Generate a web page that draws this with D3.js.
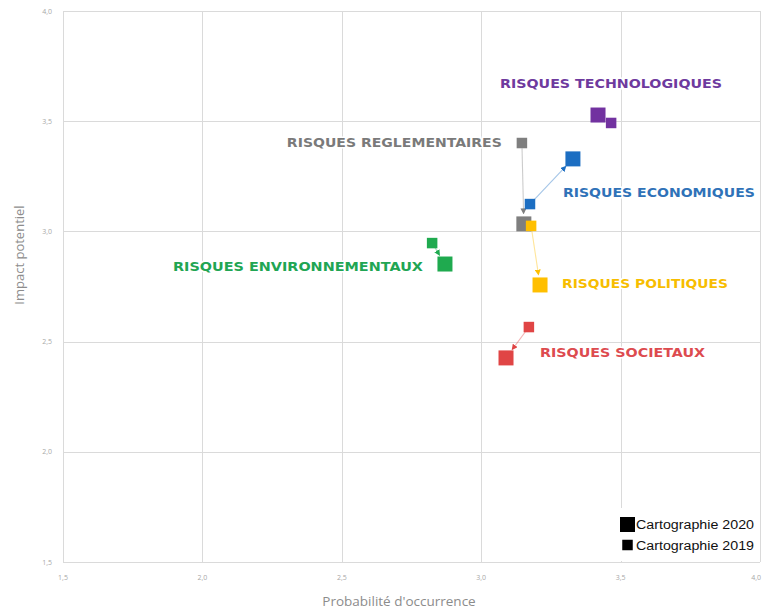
<!DOCTYPE html>
<html>
<head>
<meta charset="utf-8">
<script src="https://cdn.jsdelivr.net/npm/d3@7"></script>
<style>
  html, body { margin: 0; padding: 0; background: #fff; }
  svg { display: block; }
</style>
</head>
<body>
<div id="chart"></div>
<script>
// ---- data ----
const categories = ["RISQUES TECHNOLOGIQUES", "RISQUES REGLEMENTAIRES", "RISQUES ECONOMIQUES",
                    "RISQUES ENVIRONNEMENTAUX", "RISQUES POLITIQUES", "RISQUES SOCIETAUX"];
const prob2019   = [3.466, 3.146, 3.175, 2.824, 3.179, 3.171];
const impact2019 = [3.492, 3.401, 3.124, 2.947, 3.025, 2.566];
const prob2020   = [3.419, 3.153, 3.329, 2.870, 3.211, 3.089];
const impact2020 = [3.528, 3.034, 3.329, 2.852, 2.757, 2.426];
const xTicks = [1.5, 2.0, 2.5, 3.0, 3.5, 4.0];
const yTicks = [1.5, 2.0, 2.5, 3.0, 3.5, 4.0];
const legendLabels = ["Cartographie 2020", "Cartographie 2019"];
const xTitle = "Probabilité d'occurrence";
const yTitle = "Impact potentiel";

// ---- styles ----
const colors = ["#7232a0", "#7f7f7f", "#1c6ec2", "#1faa4f", "#ffbf00", "#e04545"];
const textColors = ["#6e3a9e", "#7a7a7a", "#2f72b8", "#21a553", "#f7bd00", "#dd4b4f"];
// label placement relative to the 2020 marker (pixels)
const labelPlace = [
  {anchor: "middle", dx: 13, dy: -32, w: 222},
  {anchor: "end", dx: -22, dy: -81, w: 215},
  {anchor: "start", dx: -10, dy: 34, w: 192},
  {anchor: "end", dx: -22, dy: 2, w: 250},
  {anchor: "start", dx: 22, dy: -1, w: 166},
  {anchor: "start", dx: 34, dy: -5, w: 165}
];

const W = 762, H = 609;
const svg = d3.select("#chart").append("svg").attr("width", W).attr("height", H);

const x = d3.scaleLinear().domain([1.5, 4.0]).range([63, 760]);
const y = d3.scaleLinear().domain([1.5, 4.0]).range([562, 11]);
const fmt = v => v.toFixed(1).replace(".", ",");

// grid
const grid = svg.append("g");
grid.selectAll("line.v").data(xTicks).join("line")
  .attr("x1", d => Math.round(x(d)) + 0.5).attr("x2", d => Math.round(x(d)) + 0.5)
  .attr("y1", y(4.0)).attr("y2", y(1.5))
  .attr("stroke", "#dadada").attr("stroke-width", 1);
grid.selectAll("line.h").data(yTicks).join("line")
  .attr("y1", d => Math.round(y(d)) + 0.5).attr("y2", d => Math.round(y(d)) + 0.5)
  .attr("x1", x(1.5)).attr("x2", x(4.0))
  .attr("stroke", "#dadada").attr("stroke-width", 1);

// tick labels
svg.append("g").selectAll("text").data(yTicks).join("text")
  .attr("x", 52).attr("y", d => y(d) + 2.5)
  .attr("text-anchor", "end")
  .attr("font-family", "Open Sans, sans-serif").attr("font-size", 7)
  .attr("fill", "#a8a8a8").text(fmt);
svg.append("g").selectAll("text").data(xTicks).join("text")
  .attr("x", (d, i) => i === xTicks.length - 1 ? W - 1 : x(d)).attr("y", 580)
  .attr("text-anchor", (d, i) => i === xTicks.length - 1 ? "end" : "middle")
  .attr("font-family", "Open Sans, sans-serif").attr("font-size", 7)
  .attr("fill", "#a8a8a8").text(fmt);

// axis titles
svg.append("text").attr("x", 399).attr("y", 606)
  .attr("text-anchor", "middle")
  .attr("font-family", "Open Sans, sans-serif").attr("font-size", 13.5)
  .attr("fill", "#8c8c8c").text(xTitle);
svg.append("text").attr("transform", "translate(24,255) rotate(-90)")
  .attr("text-anchor", "middle")
  .attr("font-family", "Open Sans, sans-serif").attr("font-size", 13)
  .attr("fill", "#8c8c8c").text(yTitle);

// legend background
svg.append("rect").attr("x", 619).attr("y", 508).attr("width", 141).attr("height", 53)
  .attr("fill", "#fff");

// arrow markers
const defs = svg.append("defs");
colors.forEach((c, i) => {
  defs.append("marker").attr("id", "arr" + i)
    .attr("viewBox", "0 0 10 10").attr("refX", 5).attr("refY", 5)
    .attr("markerWidth", 6).attr("markerHeight", 6)
    .attr("markerUnits", "userSpaceOnUse")
    .attr("orient", "auto")
    .append("path").attr("d", "M0,0 L10,5 L0,10 Z").attr("fill", c);
});

const BIG = 15, SMALL = 10.5;
const pts = categories.map((name, i) => ({
  name, i,
  x19: x(prob2019[i]), y19: y(impact2019[i]),
  x20: x(prob2020[i]), y20: y(impact2020[i])
}));

// connecting arrows
const order = [1, 4, 0, 2, 3, 5];
const marks = svg.append("g");
order.forEach(i => {
  const p = pts[i];
  const dx = p.x20 - p.x19, dy = p.y20 - p.y19;
  const len = Math.hypot(dx, dy);
  const cut = BIG / 2 + 5;
  if (len > cut + SMALL / 2 + 3) {
    const ux = dx / len, uy = dy / len;
    marks.append("line")
      .attr("x1", p.x19 + ux * SMALL / 2).attr("y1", p.y19 + uy * SMALL / 2)
      .attr("x2", p.x20 - ux * cut).attr("y2", p.y20 - uy * cut)
      .attr("stroke", colors[i]).attr("stroke-opacity", 0.4).attr("stroke-width", 1.1)
      .attr("marker-end", "url(#arr" + i + ")");
  }
});
order.forEach(i => {
  const p = pts[i];
  marks.append("rect")
    .attr("x", p.x20 - BIG / 2).attr("y", p.y20 - BIG / 2)
    .attr("width", BIG).attr("height", BIG).attr("fill", colors[i]);
  marks.append("rect")
    .attr("x", p.x19 - SMALL / 2).attr("y", p.y19 - SMALL / 2)
    .attr("width", SMALL).attr("height", SMALL).attr("fill", colors[i]);
});

// labels
svg.append("g").selectAll("text").data(pts).join("text")
  .attr("x", d => d.x20 + labelPlace[d.i].dx)
  .attr("y", d => d.y20 + labelPlace[d.i].dy + 4.5)
  .attr("text-anchor", d => labelPlace[d.i].anchor)
  .attr("textLength", d => labelPlace[d.i].w)
  .attr("lengthAdjust", "spacingAndGlyphs")
  .attr("font-family", "DejaVu Sans, sans-serif").attr("font-weight", "bold")
  .attr("font-size", 12.5)
  .attr("fill", d => textColors[d.i])
  .attr("stroke", "#fff").attr("stroke-width", 3).attr("paint-order", "stroke")
  .text(d => d.name);

// legend
const legSizes = [BIG, SMALL];
const leg = svg.append("g");
legendLabels.forEach((lab, k) => {
  const cy = 524.5 + k * 20.5;
  leg.append("rect").attr("x", 627.5 - legSizes[k] / 2).attr("y", cy - legSizes[k] / 2)
    .attr("width", legSizes[k]).attr("height", legSizes[k]).attr("fill", "#000");
  leg.append("text").attr("x", 636).attr("y", cy + 4.5)
    .attr("textLength", 118).attr("lengthAdjust", "spacingAndGlyphs")
    .attr("font-family", "Liberation Sans, sans-serif").attr("font-size", 12.5)
    .attr("fill", "#111").text(lab);
});
</script>
</body>
</html>
